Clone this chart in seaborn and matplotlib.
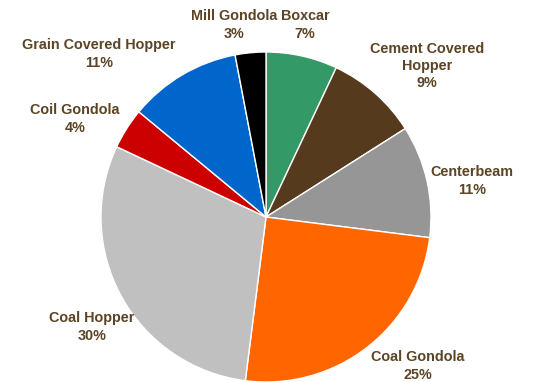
import matplotlib
matplotlib.use("Agg")
import matplotlib.pyplot as plt
import seaborn as sns

categories = ["Boxcar", "Cement Covered\nHopper", "Centerbeam", "Coal Gondola",
              "Coal Hopper", "Coil Gondola", "Grain Covered Hopper", "Mill Gondola"]
shares = [7, 9, 11, 25, 30, 4, 11, 3]
colors = ["#339966", "#553A1E", "#969696", "#FF6600",
          "#C0C0C0", "#CC0000", "#0066CC", "#000000"]
# label block centres in figure pixels (x, y from top)
label_pos = [(305, 25), (427, 66), (472, 181), (418, 366),
             (92, 327), (75, 119), (99, 54), (234, 25)]

sns.set_style("white")
plt.rcParams['font.family'] = ['Liberation Sans', 'DejaVu Sans']

W, H = 535, 382
fig = plt.figure(figsize=(W / 100, H / 100), dpi=100)
cx, cy, r = 266, 217, 165
ax = fig.add_axes([(cx - r) / W, (H - cy - r) / H, 2 * r / W, 2 * r / H])
ax.pie(shares, colors=colors, startangle=90, counterclock=False,
       wedgeprops=dict(edgecolor="white", linewidth=1))
ax.set_xlim(-1, 1)
ax.set_ylim(-1, 1)
ax.set_aspect("equal")
ax.axis("off")

for cat, val, (px, py) in zip(categories, shares, label_pos):
    fig.text(px / W, 1 - py / H, f"{cat}\n{val}%", ha="center", va="center",
             color="#5C4425", fontsize=10.4, fontweight="bold", linespacing=1.3)

fig.savefig("out.png", dpi=100)
